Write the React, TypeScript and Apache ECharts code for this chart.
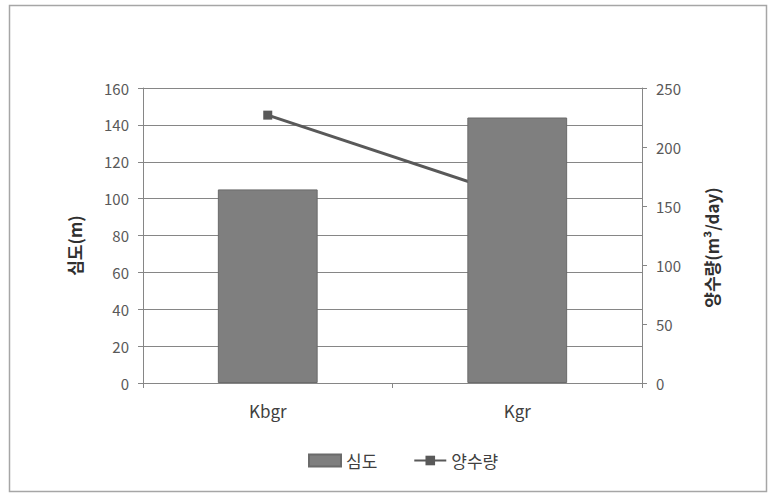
import React, { useEffect, useRef } from "react";
import * as echarts from "echarts";

const categories = ["Kbgr", "Kgr"];
const depth = [105, 144];
const pumping = [227, 157];
const leftTicks = { min: 0, max: 160, interval: 20 };
const rightTicks = { min: 0, max: 250, interval: 50 };
const seriesNames = ["심도", "양수량"];
const axisNames = ["심도(m)", "양수량(m³/day)"];

const FONT = "'Noto Sans CJK KR', 'Noto Sans', sans-serif";

export default function App() {
  const ref = useRef<HTMLDivElement>(null);
  useEffect(() => {
    if (!ref.current) return;
    const chart = echarts.init(ref.current, undefined, { renderer: "svg" });
    chart.setOption({
      animation: false,
      backgroundColor: "#ffffff",
      textStyle: { fontFamily: FONT },
      graphic: [
        {
          type: "rect",
          shape: { x: 9.5, y: 5.5, width: 757, height: 486 },
          style: { fill: "none", stroke: "#a6a6a6", lineWidth: 1.5 },
          silent: true,
        },
      ],
      grid: { left: 143, right: 126, top: 88, bottom: 111 },
      legend: {
        bottom: 20,
        left: 303,
        itemGap: 36,
        itemWidth: 32,
        itemHeight: 12,
        textStyle: { fontSize: 17, color: "#404040", fontFamily: FONT },
        data: [
          { name: seriesNames[0], icon: "rect" },
          { name: seriesNames[1] },
        ],
      },
      xAxis: {
        type: "category",
        data: categories,
        axisLine: { lineStyle: { color: "#868686", width: 1 } },
        axisTick: { show: true, length: 5, lineStyle: { color: "#868686" } },
        axisLabel: { fontSize: 17, color: "#404040", margin: 19, fontFamily: FONT },
      },
      yAxis: [
        {
          type: "value",
          min: leftTicks.min,
          max: leftTicks.max,
          interval: leftTicks.interval,
          name: axisNames[0],
          nameLocation: "middle",
          nameGap: 60,
          nameTextStyle: {
            fontSize: 17,
            fontWeight: "bold",
            color: "#303030",
            fontFamily: FONT,
            padding: [0, 20, 0, 0],
          },
          axisLine: { show: true, lineStyle: { color: "#868686" } },
          axisTick: { show: true, length: 5, lineStyle: { color: "#868686" } },
          axisLabel: { fontSize: 15, color: "#595959", margin: 14, fontFamily: FONT },
          splitLine: { show: true, lineStyle: { color: "#868686", width: 1 } },
        },
        {
          type: "value",
          min: rightTicks.min,
          max: rightTicks.max,
          interval: rightTicks.interval,
          name: axisNames[1],
          nameLocation: "middle",
          nameGap: 61,
          nameTextStyle: {
            fontSize: 17,
            fontWeight: "bold",
            color: "#303030",
            fontFamily: FONT,
            padding: [0, 24, 0, 0],
          },
          axisLine: { show: true, lineStyle: { color: "#868686" } },
          axisTick: { show: true, length: 5, lineStyle: { color: "#868686" } },
          axisLabel: { fontSize: 15, color: "#595959", margin: 14, fontFamily: FONT },
          splitLine: { show: false },
        },
      ],
      series: [
        {
          name: seriesNames[0],
          type: "bar",
          yAxisIndex: 0,
          data: depth,
          barWidth: "40%",
          z: 3,
          itemStyle: { color: "#7f7f7f", borderColor: "#6b6b6b", borderWidth: 1 },
        },
        {
          name: seriesNames[1],
          type: "line",
          yAxisIndex: 1,
          data: pumping,
          z: 2,
          symbol: "rect",
          symbolSize: 9,
          lineStyle: { color: "#595959", width: 3 },
          itemStyle: { color: "#595959" },
        },
      ],
    });
    return () => chart.dispose();
  }, []);
  return (
    <div
      ref={ref}
      style={{ position: "fixed", left: 0, top: 0, width: 768, height: 494 }}
    />
  );
}
